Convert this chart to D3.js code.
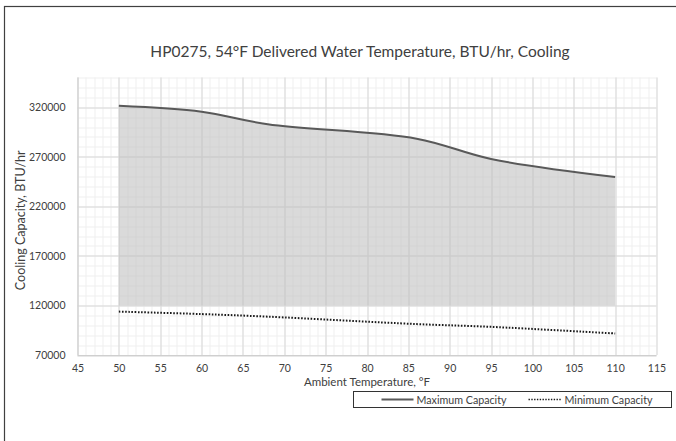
<!DOCTYPE html>
<html>
<head>
<meta charset="utf-8">
<script src="https://cdn.jsdelivr.net/npm/d3@7"></script>
<style>
  body { margin: 0; background: #fff; }
  text { font-family: Lato, "Open Sans", sans-serif; fill: #404040; }
  .grid-minor line { stroke: #efefef; }
  .grid-major line { stroke: #d9d9d9; }
</style>
</head>
<body>
<div id="chart"></div>
<script>
// data
const temps = [50, 60, 68, 86, 95, 110];
const maxCapacity = [321500, 315500, 302800, 288300, 267800, 249700];
const minCapacity = [113800, 111300, 108700, 101200, 98400, 91700];
const xTicks = [45, 50, 55, 60, 65, 70, 75, 80, 85, 90, 95, 100, 105, 110, 115];
const yTicks = [70000, 120000, 170000, 220000, 270000, 320000];
const fillBase = 120000;

class CapacityChart {
  constructor(_config) {
    this.config = {
      parentElement: _config.parentElement,
      containerWidth: _config.containerWidth || 676,
      containerHeight: _config.containerHeight || 441,
      margin: _config.margin || {top: 77.5, right: 19.5, bottom: 86, left: 77.5}
    };
    this.initVis();
  }

  initVis() {
    let vis = this;
    vis.width = vis.config.containerWidth - vis.config.margin.left - vis.config.margin.right;
    vis.height = vis.config.containerHeight - vis.config.margin.top - vis.config.margin.bottom;

    vis.svg = d3.select(vis.config.parentElement)
      .append('svg')
        .attr('width', vis.config.containerWidth)
        .attr('height', vis.config.containerHeight);

    // chart frame (runs off the right and bottom edges)
    vis.svg.append('rect')
      .attr('x', 4.5).attr('y', 6.5)
      .attr('width', 700).attr('height', 460)
      .attr('fill', 'none')
      .attr('stroke', '#404040')
      .attr('stroke-width', 1.2);

    vis.chart = vis.svg.append('g')
      .attr('transform', `translate(${vis.config.margin.left},${vis.config.margin.top})`);

    vis.xScale = d3.scaleLinear().domain([45, 115]).range([0, vis.width]);
    vis.yScale = d3.scaleLinear().domain([70000, 350000]).range([vis.height, 0]);

    vis.data = temps.map((t, i) => ({t: t, max: maxCapacity[i], min: minCapacity[i]}));
    vis.renderVis();
  }

  renderVis() {
    let vis = this;

    // minor gridlines
    const minorX = d3.range(45, 116, 1);
    const minorY = d3.range(70000, 350001, 10000);
    const gMinor = vis.chart.append('g').attr('class', 'grid-minor');
    gMinor.selectAll('.vx').data(minorX).join('line')
      .attr('x1', d => Math.round(vis.xScale(d)) + 0.5).attr('x2', d => Math.round(vis.xScale(d)) + 0.5)
      .attr('y1', 0).attr('y2', vis.height);
    gMinor.selectAll('.hy').data(minorY).join('line')
      .attr('y1', d => Math.round(vis.yScale(d)) + 0.5).attr('y2', d => Math.round(vis.yScale(d)) + 0.5)
      .attr('x1', 0).attr('x2', vis.width);

    // major gridlines
    const gMajor = vis.chart.append('g').attr('class', 'grid-major');
    gMajor.selectAll('.vx').data(xTicks).join('line')
      .attr('x1', d => Math.round(vis.xScale(d)) + 0.5).attr('x2', d => Math.round(vis.xScale(d)) + 0.5)
      .attr('y1', 0).attr('y2', vis.height);
    gMajor.selectAll('.hy').data(yTicks).join('line')
      .attr('y1', d => Math.round(vis.yScale(d)) + 0.5).attr('y2', d => Math.round(vis.yScale(d)) + 0.5)
      .attr('x1', 0).attr('x2', vis.width);

    const smooth = d3.curveCatmullRom.alpha(0.5);

    // shaded band
    const area = d3.area()
      .x(d => vis.xScale(d.t))
      .y0(vis.yScale(fillBase))
      .y1(d => vis.yScale(d.max))
      .curve(smooth);
    vis.chart.append('path')
      .datum(vis.data)
      .attr('d', area)
      .attr('fill', '#bfbfbf')
      .attr('fill-opacity', 0.58);

    const maxLine = d3.line()
      .x(d => vis.xScale(d.t))
      .y(d => vis.yScale(d.max))
      .curve(smooth);
    vis.chart.append('path')
      .datum(vis.data)
      .attr('d', maxLine)
      .attr('fill', 'none')
      .attr('stroke', '#595959')
      .attr('stroke-width', 2);

    const minLine = d3.line()
      .x(d => vis.xScale(d.t))
      .y(d => vis.yScale(d.min))
      .curve(smooth);
    vis.chart.append('path')
      .datum(vis.data)
      .attr('d', minLine)
      .attr('fill', 'none')
      .attr('stroke', '#1a1a1a')
      .attr('stroke-width', 2)
      .attr('stroke-dasharray', '1.6,1.6');

    // axes
    const xAxis = d3.axisBottom(vis.xScale).tickValues(xTicks).tickSize(0).tickPadding(10);
    const yAxis = d3.axisLeft(vis.yScale).tickValues(yTicks).tickSize(0).tickPadding(12)
      .tickFormat(d3.format('d'));

    const xAxisG = vis.chart.append('g')
      .attr('transform', `translate(0,${vis.height})`)
      .call(xAxis);
    const yAxisG = vis.chart.append('g').call(yAxis);
    [xAxisG, yAxisG].forEach(g => {
      g.select('.domain').remove();
      g.selectAll('text').attr('font-size', 10.5).attr('font-family', null);
    });

    vis.chart.append('line')
      .attr('x1', 0).attr('x2', vis.width)
      .attr('y1', vis.height + 0.5).attr('y2', vis.height + 0.5)
      .attr('stroke', '#cfcfcf');
    vis.chart.append('line')
      .attr('x1', 0.5).attr('x2', 0.5)
      .attr('y1', 0).attr('y2', vis.height)
      .attr('stroke', '#cfcfcf');

    // titles
    vis.svg.append('text')
      .attr('x', 360).attr('y', 57)
      .attr('text-anchor', 'middle')
      .attr('font-size', 15.5)
      .text('HP0275, 54°F Delivered Water Temperature, BTU/hr, Cooling');

    vis.svg.append('text')
      .attr('x', vis.config.margin.left + vis.width / 2).attr('y', 386)
      .attr('text-anchor', 'middle')
      .attr('font-size', 11.5)
      .text('Ambient Temperature, °F');

    vis.svg.append('text')
      .attr('transform', `translate(25,${vis.config.margin.top + vis.height / 2 + 4}) rotate(-90)`)
      .attr('text-anchor', 'middle')
      .attr('font-size', 12.5)
      .text('Cooling Capacity, BTU/hr');

    // legend
    const legend = vis.svg.append('g').attr('transform', 'translate(353.5,391.5)');
    legend.append('rect')
      .attr('width', 318).attr('height', 16)
      .attr('fill', '#fff')
      .attr('stroke', '#333')
      .attr('stroke-width', 1);
    legend.append('line')
      .attr('x1', 28).attr('x2', 60).attr('y1', 8).attr('y2', 8)
      .attr('stroke', '#595959').attr('stroke-width', 2);
    legend.append('text')
      .attr('x', 63).attr('y', 12)
      .attr('font-size', 10.7)
      .text('Maximum Capacity');
    legend.append('line')
      .attr('x1', 175).attr('x2', 208).attr('y1', 8).attr('y2', 8)
      .attr('stroke', '#1a1a1a').attr('stroke-width', 1.6)
      .attr('stroke-dasharray', '1.4,1.4');
    legend.append('text')
      .attr('x', 211).attr('y', 12)
      .attr('font-size', 10.7)
      .text('Minimum Capacity');
  }
}

new CapacityChart({parentElement: '#chart'});
</script>
</body>
</html>
